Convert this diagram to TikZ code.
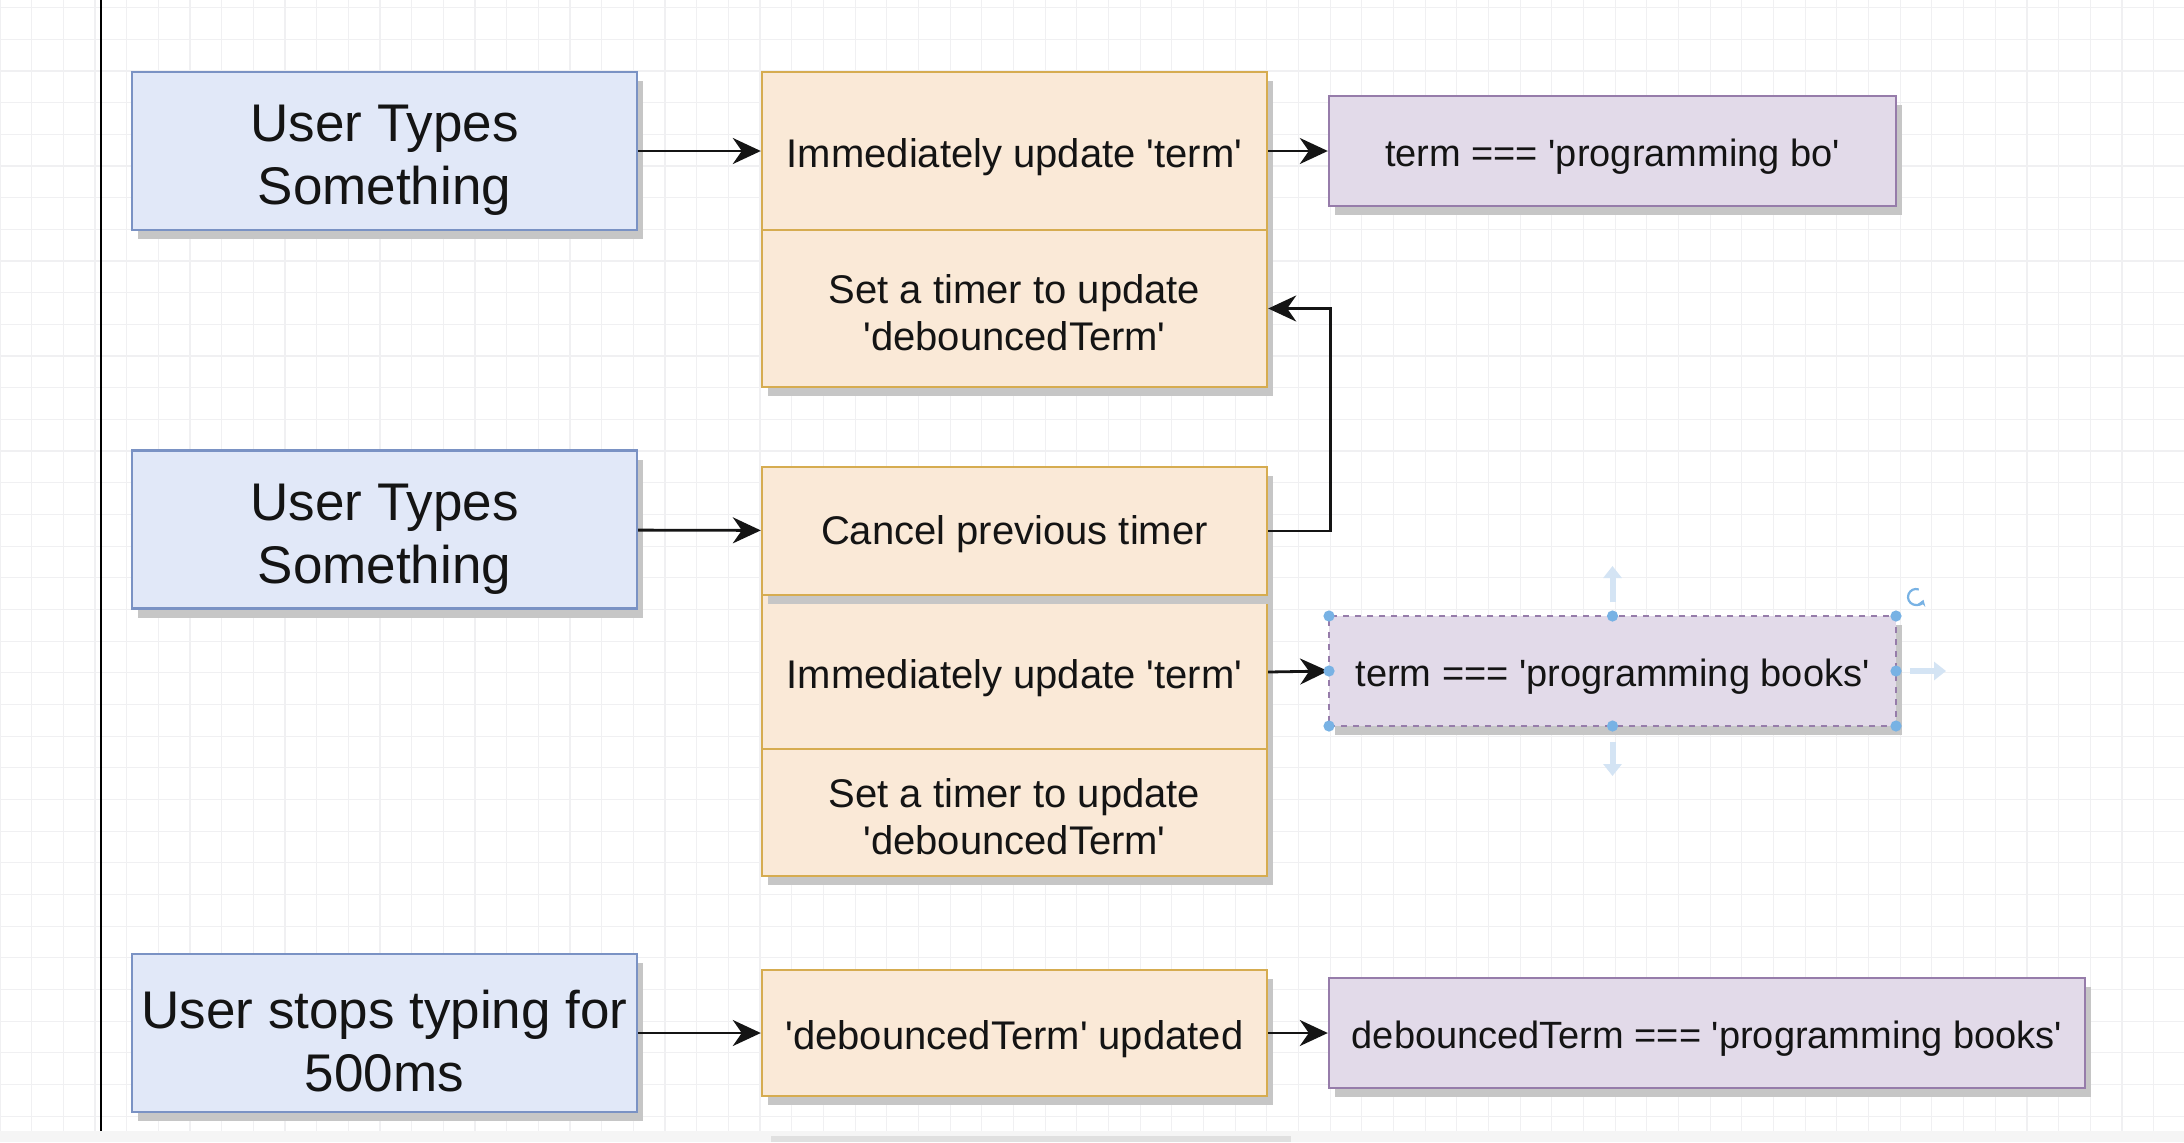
\documentclass[tikz,border=0pt]{standalone}
\usepackage{fontspec}
\setmainfont{Liberation Sans}
\usetikzlibrary{arrows.meta,shadows}
\definecolor{userfill}{RGB}{225,232,248}
\definecolor{userline}{RGB}{122,146,196}
\definecolor{actfill}{RGB}{250,233,215}
\definecolor{actline}{RGB}{214,172,80}
\definecolor{valfill}{RGB}{226,218,233}
\definecolor{valline}{RGB}{150,124,170}
\definecolor{txt}{RGB}{20,20,20}
\definecolor{shadowgray}{RGB}{198,198,198}
\definecolor{gridgray}{RGB}{240,240,242}
\definecolor{handleblue}{RGB}{120,178,228}
\definecolor{ghostblue}{RGB}{212,228,244}
\newcommand{\sq}{\textquotesingle}
\newcommand{\hdl}[1]{\fill[handleblue] (#1) circle (2.8pt)}
\tikzset{
  box/.style={draw, line width=1.2pt, inner sep=0pt, align=center, text=txt,
    drop shadow={shadow xshift=3pt, shadow yshift=-4.5pt, fill=shadowgray, opacity=1}},
  user/.style={box, fill=userfill, draw=userline, minimum width=252.5pt,
    minimum height=79pt, text height=59pt, font=\fontsize{26.5}{31.5}\selectfont},
  act/.style={box, fill=actfill, draw=actline, minimum width=252.5pt,
    text height=20.5pt, font=\fontsize{20}{23.7}\selectfont},
  twoline/.style={text height=42.3pt},
  val/.style={box, fill=valfill, draw=valline, minimum height=55pt,
    text height=19.3pt, font=\fontsize{19}{23}\selectfont},
  link/.style={line width=1.4pt, draw=txt, -{Stealth[length=14pt,width=13pt,inset=4.5pt]}},
  ghost/.style={line width=3pt, draw=ghostblue, -{Triangle[length=6pt,width=9pt]}},
}
\begin{document}
\begin{tikzpicture}[x=0.5pt,y=-0.5pt]
\useasboundingbox (0,0) rectangle (2184,1142);
\fill[white] (0,0) rectangle (2184,1142);
\foreach \i in {0,...,69} {\draw[gridgray, line width=0.6pt] (\i*31.67,0) -- (\i*31.67,1131);}
\foreach \j in {0,...,35} {\draw[gridgray, line width=0.6pt] (0,7.7+\j*31.67) -- (2184,7.7+\j*31.67);}
\fill[black!4] (0,1131) rectangle (2184,1142);
\fill[black!12] (771,1136) rectangle (1291,1142);
\draw[line width=1pt] (101,0) -- (101,1131);
%
\node[user] (user1) at (384.5,151) {User Types\\Something};
\node[act, minimum height=79pt] (now1) at (1014.5,151) {Immediately update \sq term\sq};
\node[act, twoline, minimum height=78.5pt] (timer1) at (1014.5,308.5) {Set a timer to update\\\sq debouncedTerm\sq};
\node[val, minimum width=283.5pt] (term1) at (1612.5,151) {term === \sq programming bo\sq};
\draw[link] (user1) -- (now1);
\draw[link] (now1) -- (term1);
%
\node[user] (user2) at (384.5,529.5) {User Types\\Something};
\node[act, minimum height=77pt] (now2) at (1014.5,672) {Immediately update \sq term\sq};
\node[act, twoline, minimum height=63.5pt] (timer2) at (1014.5,812.5) {Set a timer to update\\\sq debouncedTerm\sq};
\node[act, minimum height=64pt, text height=18pt] (cancel) at (1014.5,531) {Cancel previous timer};
\node[val, minimum width=283.5pt, dashed, line width=0.9pt] (term2) at (1612.5,671) {term === \sq programming books\sq};
\draw[link] (user2) -- (cancel);
\draw[link] (cancel.east) -- ++(62,0) |- (timer1.east);
\draw[link] (now2.east) -- (term2.west);
%
\hdl{1329,616}; \hdl{1612.5,616}; \hdl{1896,616};
\hdl{1329,671}; \hdl{1896,671};
\hdl{1329,726}; \hdl{1612.5,726}; \hdl{1896,726};
\draw[ghost] (1612.5,602) -- (1612.5,566);
\draw[ghost] (1612.5,742) -- (1612.5,776);
\draw[ghost] (1910,671) -- (1946,671);
\draw[handleblue, line width=1.1pt, -{Stealth[length=3pt,width=4pt]}] (1916,597) ++(70:4pt) arc[start angle=70, end angle=340, radius=4pt];
%
\node[user] (stop) at (384.5,1033) {User stops typing for\\500ms};
\node[act, minimum height=63pt] (deb) at (1014.5,1033) {\sq debouncedTerm\sq{} updated};
\node[val, minimum width=378pt] (debterm) at (1707,1033) {debouncedTerm === \sq programming books\sq};
\draw[link] (stop) -- (deb);
\draw[link] (deb) -- (debterm);
\end{tikzpicture}
\end{document}
